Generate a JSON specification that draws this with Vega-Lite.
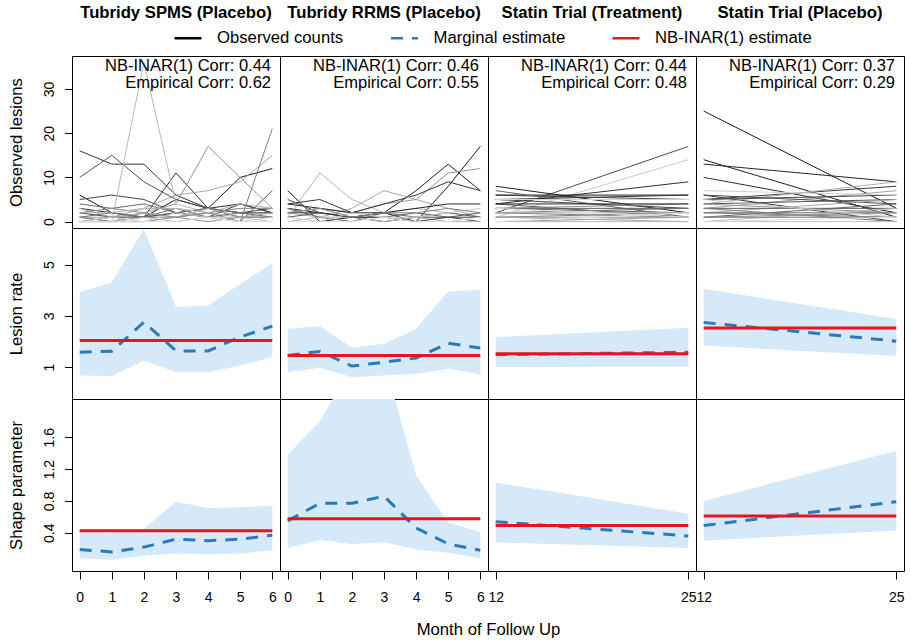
{
 "$schema": "https://vega.github.io/schema/vega-lite/v6.json",
 "padding": {"left": 7, "top": 4, "right": 4, "bottom": 2},
 "background": "white",
 "datasets": {
  "corr": [
   {"study": "SPMS", "label": "NB-INAR(1) Corr: 0.44\nEmpirical Corr: 0.62"},
   {"study": "RRMS", "label": "NB-INAR(1) Corr: 0.46\nEmpirical Corr: 0.55"},
   {"study": "StatinT", "label": "NB-INAR(1) Corr: 0.44\nEmpirical Corr: 0.48"},
   {"study": "StatinP", "label": "NB-INAR(1) Corr: 0.37\nEmpirical Corr: 0.29"}
  ],
  "est": [
   {"study": "SPMS", "param": "rate", "month": 0, "lo": 0.67, "hi": 3.92, "marg": 1.58, "nb": 2.04},
   {"study": "SPMS", "param": "rate", "month": 1, "lo": 0.65, "hi": 4.31, "marg": 1.62, "nb": 2.04},
   {"study": "SPMS", "param": "rate", "month": 2, "lo": 1.26, "hi": 6.39, "marg": 2.75, "nb": 2.04},
   {"study": "SPMS", "param": "rate", "month": 3, "lo": 0.80, "hi": 3.34, "marg": 1.63, "nb": 2.04},
   {"study": "SPMS", "param": "rate", "month": 4, "lo": 0.80, "hi": 3.40, "marg": 1.63, "nb": 2.04},
   {"study": "SPMS", "param": "rate", "month": 5, "lo": 1.06, "hi": 4.24, "marg": 2.17, "nb": 2.04},
   {"study": "SPMS", "param": "rate", "month": 6, "lo": 1.39, "hi": 5.06, "marg": 2.60, "nb": 2.04},
   {"study": "RRMS", "param": "rate", "month": 0, "lo": 0.80, "hi": 2.49, "marg": 1.45, "nb": 1.45},
   {"study": "RRMS", "param": "rate", "month": 1, "lo": 0.97, "hi": 2.60, "marg": 1.61, "nb": 1.45},
   {"study": "RRMS", "param": "rate", "month": 2, "lo": 0.60, "hi": 1.75, "marg": 1.04, "nb": 1.45},
   {"study": "RRMS", "param": "rate", "month": 3, "lo": 0.67, "hi": 1.91, "marg": 1.19, "nb": 1.45},
   {"study": "RRMS", "param": "rate", "month": 4, "lo": 0.74, "hi": 2.49, "marg": 1.35, "nb": 1.45},
   {"study": "RRMS", "param": "rate", "month": 5, "lo": 0.93, "hi": 3.95, "marg": 1.93, "nb": 1.45},
   {"study": "RRMS", "param": "rate", "month": 6, "lo": 0.71, "hi": 4.02, "marg": 1.74, "nb": 1.45},
   {"study": "StatinT", "param": "rate", "month": 12, "lo": 1.00, "hi": 2.17, "marg": 1.48, "nb": 1.52},
   {"study": "StatinT", "param": "rate", "month": 25, "lo": 1.01, "hi": 2.53, "marg": 1.58, "nb": 1.52},
   {"study": "StatinP", "param": "rate", "month": 12, "lo": 1.84, "hi": 4.05, "marg": 2.74, "nb": 2.52},
   {"study": "StatinP", "param": "rate", "month": 25, "lo": 1.43, "hi": 2.88, "marg": 2.01, "nb": 2.52},
   {"study": "SPMS", "param": "shape", "month": 0, "lo": 0.08, "hi": 0.42, "marg": 0.19, "nb": 0.425},
   {"study": "SPMS", "param": "shape", "month": 1, "lo": 0.06, "hi": 0.40, "marg": 0.16, "nb": 0.425},
   {"study": "SPMS", "param": "shape", "month": 2, "lo": 0.11, "hi": 0.45, "marg": 0.22, "nb": 0.425},
   {"study": "SPMS", "param": "shape", "month": 3, "lo": 0.14, "hi": 0.79, "marg": 0.32, "nb": 0.425},
   {"study": "SPMS", "param": "shape", "month": 4, "lo": 0.13, "hi": 0.71, "marg": 0.30, "nb": 0.425},
   {"study": "SPMS", "param": "shape", "month": 5, "lo": 0.14, "hi": 0.72, "marg": 0.32, "nb": 0.425},
   {"study": "SPMS", "param": "shape", "month": 6, "lo": 0.18, "hi": 0.74, "marg": 0.37, "nb": 0.425},
   {"study": "RRMS", "param": "shape", "month": 0, "lo": 0.21, "hi": 1.38, "marg": 0.55, "nb": 0.577},
   {"study": "RRMS", "param": "shape", "month": 1, "lo": 0.31, "hi": 1.80, "marg": 0.77, "nb": 0.577},
   {"study": "RRMS", "param": "shape", "month": 2, "lo": 0.26, "hi": 2.50, "marg": 0.77, "nb": 0.577},
   {"study": "RRMS", "param": "shape", "month": 3, "lo": 0.28, "hi": 2.57, "marg": 0.86, "nb": 0.577},
   {"study": "RRMS", "param": "shape", "month": 4, "lo": 0.19, "hi": 1.12, "marg": 0.46, "nb": 0.577},
   {"study": "RRMS", "param": "shape", "month": 5, "lo": 0.15, "hi": 0.53, "marg": 0.26, "nb": 0.577},
   {"study": "RRMS", "param": "shape", "month": 6, "lo": 0.08, "hi": 0.41, "marg": 0.18, "nb": 0.577},
   {"study": "StatinT", "param": "shape", "month": 12, "lo": 0.28, "hi": 1.03, "marg": 0.54, "nb": 0.49},
   {"study": "StatinT", "param": "shape", "month": 25, "lo": 0.21, "hi": 0.64, "marg": 0.36, "nb": 0.49},
   {"study": "StatinP", "param": "shape", "month": 12, "lo": 0.30, "hi": 0.80, "marg": 0.49, "nb": 0.61},
   {"study": "StatinP", "param": "shape", "month": 25, "lo": 0.43, "hi": 1.43, "marg": 0.79, "nb": 0.61}
  ],
  "obs": [
   {"study":"SPMS","subject":1,"month":0,"count":6},{"study":"SPMS","subject":1,"month":1,"count":2},{"study":"SPMS","subject":1,"month":2,"count":1},{"study":"SPMS","subject":1,"month":3,"count":5},{"study":"SPMS","subject":1,"month":4,"count":3},{"study":"SPMS","subject":1,"month":5,"count":10},{"study":"SPMS","subject":1,"month":6,"count":12},
   {"study":"SPMS","subject":5,"month":0,"count":16},{"study":"SPMS","subject":5,"month":1,"count":13},{"study":"SPMS","subject":5,"month":2,"count":13},{"study":"SPMS","subject":5,"month":3,"count":6},{"study":"SPMS","subject":5,"month":4,"count":3},{"study":"SPMS","subject":5,"month":5,"count":2},{"study":"SPMS","subject":5,"month":6,"count":2},
   {"study":"SPMS","subject":9,"month":0,"count":10},{"study":"SPMS","subject":9,"month":1,"count":15},{"study":"SPMS","subject":9,"month":2,"count":9},{"study":"SPMS","subject":9,"month":3,"count":5},{"study":"SPMS","subject":9,"month":4,"count":3},{"study":"SPMS","subject":9,"month":5,"count":1},{"study":"SPMS","subject":9,"month":6,"count":1},
   {"study":"SPMS","subject":4,"month":0,"count":3},{"study":"SPMS","subject":4,"month":1,"count":2},{"study":"SPMS","subject":4,"month":2,"count":1},{"study":"SPMS","subject":4,"month":3,"count":11},{"study":"SPMS","subject":4,"month":4,"count":3},{"study":"SPMS","subject":4,"month":5,"count":4},{"study":"SPMS","subject":4,"month":6,"count":2},
   {"study":"SPMS","subject":7,"month":0,"count":5},{"study":"SPMS","subject":7,"month":1,"count":6},{"study":"SPMS","subject":7,"month":2,"count":5},{"study":"SPMS","subject":7,"month":3,"count":2},{"study":"SPMS","subject":7,"month":4,"count":3},{"study":"SPMS","subject":7,"month":5,"count":2},{"study":"SPMS","subject":7,"month":6,"count":3},
   {"study":"SPMS","subject":6,"month":0,"count":2},{"study":"SPMS","subject":6,"month":1,"count":1},{"study":"SPMS","subject":6,"month":2,"count":1},{"study":"SPMS","subject":6,"month":3,"count":2},{"study":"SPMS","subject":6,"month":4,"count":1},{"study":"SPMS","subject":6,"month":5,"count":4},{"study":"SPMS","subject":6,"month":6,"count":2},
   {"study":"SPMS","subject":10,"month":0,"count":1},{"study":"SPMS","subject":10,"month":1,"count":0},{"study":"SPMS","subject":10,"month":2,"count":1},{"study":"SPMS","subject":10,"month":3,"count":2},{"study":"SPMS","subject":10,"month":4,"count":1},{"study":"SPMS","subject":10,"month":5,"count":0},{"study":"SPMS","subject":10,"month":6,"count":7},
   {"study":"SPMS","subject":17,"month":0,"count":0},{"study":"SPMS","subject":17,"month":1,"count":0},{"study":"SPMS","subject":17,"month":2,"count":2},{"study":"SPMS","subject":17,"month":3,"count":4},{"study":"SPMS","subject":17,"month":4,"count":17},{"study":"SPMS","subject":17,"month":5,"count":10},{"study":"SPMS","subject":17,"month":6,"count":3},
   {"study":"SPMS","subject":19,"month":0,"count":1},{"study":"SPMS","subject":19,"month":1,"count":1},{"study":"SPMS","subject":19,"month":2,"count":3},{"study":"SPMS","subject":19,"month":3,"count":6},{"study":"SPMS","subject":19,"month":4,"count":7},{"study":"SPMS","subject":19,"month":5,"count":9},{"study":"SPMS","subject":19,"month":6,"count":15},
   {"study":"SPMS","subject":21,"month":0,"count":0},{"study":"SPMS","subject":21,"month":1,"count":0},{"study":"SPMS","subject":21,"month":2,"count":36},{"study":"SPMS","subject":21,"month":3,"count":4},{"study":"SPMS","subject":21,"month":4,"count":2},{"study":"SPMS","subject":21,"month":5,"count":1},{"study":"SPMS","subject":21,"month":6,"count":1},
   {"study":"SPMS","subject":14,"month":0,"count":0},{"study":"SPMS","subject":14,"month":1,"count":1},{"study":"SPMS","subject":14,"month":2,"count":1},{"study":"SPMS","subject":14,"month":3,"count":1},{"study":"SPMS","subject":14,"month":4,"count":2},{"study":"SPMS","subject":14,"month":5,"count":0},{"study":"SPMS","subject":14,"month":6,"count":21},
   {"study":"SPMS","subject":12,"month":0,"count":4},{"study":"SPMS","subject":12,"month":1,"count":3},{"study":"SPMS","subject":12,"month":2,"count":4},{"study":"SPMS","subject":12,"month":3,"count":2},{"study":"SPMS","subject":12,"month":4,"count":3},{"study":"SPMS","subject":12,"month":5,"count":2},{"study":"SPMS","subject":12,"month":6,"count":1},
   {"study":"SPMS","subject":13,"month":0,"count":1},{"study":"SPMS","subject":13,"month":1,"count":2},{"study":"SPMS","subject":13,"month":2,"count":1},{"study":"SPMS","subject":13,"month":3,"count":3},{"study":"SPMS","subject":13,"month":4,"count":1},{"study":"SPMS","subject":13,"month":5,"count":2},{"study":"SPMS","subject":13,"month":6,"count":2},
   {"study":"SPMS","subject":15,"month":0,"count":2},{"study":"SPMS","subject":15,"month":1,"count":3},{"study":"SPMS","subject":15,"month":2,"count":2},{"study":"SPMS","subject":15,"month":3,"count":1},{"study":"SPMS","subject":15,"month":4,"count":2},{"study":"SPMS","subject":15,"month":5,"count":3},{"study":"SPMS","subject":15,"month":6,"count":3},
   {"study":"SPMS","subject":22,"month":0,"count":0},{"study":"SPMS","subject":22,"month":1,"count":0},{"study":"SPMS","subject":22,"month":2,"count":1},{"study":"SPMS","subject":22,"month":3,"count":0},{"study":"SPMS","subject":22,"month":4,"count":1},{"study":"SPMS","subject":22,"month":5,"count":1},{"study":"SPMS","subject":22,"month":6,"count":0},
   {"study":"SPMS","subject":16,"month":0,"count":1},{"study":"SPMS","subject":16,"month":1,"count":0},{"study":"SPMS","subject":16,"month":2,"count":0},{"study":"SPMS","subject":16,"month":3,"count":1},{"study":"SPMS","subject":16,"month":4,"count":0},{"study":"SPMS","subject":16,"month":5,"count":1},{"study":"SPMS","subject":16,"month":6,"count":1},
   {"study":"SPMS","subject":23,"month":0,"count":0},{"study":"SPMS","subject":23,"month":1,"count":1},{"study":"SPMS","subject":23,"month":2,"count":0},{"study":"SPMS","subject":23,"month":3,"count":2},{"study":"SPMS","subject":23,"month":4,"count":1},{"study":"SPMS","subject":23,"month":5,"count":0},{"study":"SPMS","subject":23,"month":6,"count":1},
   {"study":"SPMS","subject":18,"month":0,"count":3},{"study":"SPMS","subject":18,"month":1,"count":1},{"study":"SPMS","subject":18,"month":2,"count":2},{"study":"SPMS","subject":18,"month":3,"count":1},{"study":"SPMS","subject":18,"month":4,"count":3},{"study":"SPMS","subject":18,"month":5,"count":1},{"study":"SPMS","subject":18,"month":6,"count":2},
   {"study":"SPMS","subject":25,"month":0,"count":0},{"study":"SPMS","subject":25,"month":1,"count":0},{"study":"SPMS","subject":25,"month":2,"count":0},{"study":"SPMS","subject":25,"month":3,"count":0},{"study":"SPMS","subject":25,"month":4,"count":1},{"study":"SPMS","subject":25,"month":5,"count":0},{"study":"SPMS","subject":25,"month":6,"count":0},
   {"study":"SPMS","subject":20,"month":0,"count":2},{"study":"SPMS","subject":20,"month":1,"count":2},{"study":"SPMS","subject":20,"month":2,"count":3},{"study":"SPMS","subject":20,"month":3,"count":3},{"study":"SPMS","subject":20,"month":4,"count":2},{"study":"SPMS","subject":20,"month":5,"count":4},{"study":"SPMS","subject":20,"month":6,"count":3},

   {"study":"RRMS","subject":1,"month":0,"count":7},{"study":"RRMS","subject":1,"month":1,"count":0},{"study":"RRMS","subject":1,"month":2,"count":1},{"study":"RRMS","subject":1,"month":3,"count":2},{"study":"RRMS","subject":1,"month":4,"count":0},{"study":"RRMS","subject":1,"month":5,"count":8},{"study":"RRMS","subject":1,"month":6,"count":17},
   {"study":"RRMS","subject":2,"month":0,"count":3},{"study":"RRMS","subject":2,"month":1,"count":2},{"study":"RRMS","subject":2,"month":2,"count":1},{"study":"RRMS","subject":2,"month":3,"count":2},{"study":"RRMS","subject":2,"month":4,"count":7},{"study":"RRMS","subject":2,"month":5,"count":13},{"study":"RRMS","subject":2,"month":6,"count":7},
   {"study":"RRMS","subject":21,"month":0,"count":1},{"study":"RRMS","subject":21,"month":1,"count":11},{"study":"RRMS","subject":21,"month":2,"count":5},{"study":"RRMS","subject":21,"month":3,"count":2},{"study":"RRMS","subject":21,"month":4,"count":3},{"study":"RRMS","subject":21,"month":5,"count":2},{"study":"RRMS","subject":21,"month":6,"count":1},
   {"study":"RRMS","subject":17,"month":0,"count":2},{"study":"RRMS","subject":17,"month":1,"count":3},{"study":"RRMS","subject":17,"month":2,"count":2},{"study":"RRMS","subject":17,"month":3,"count":4},{"study":"RRMS","subject":17,"month":4,"count":5},{"study":"RRMS","subject":17,"month":5,"count":11},{"study":"RRMS","subject":17,"month":6,"count":12},
   {"study":"RRMS","subject":5,"month":0,"count":4},{"study":"RRMS","subject":5,"month":1,"count":5},{"study":"RRMS","subject":5,"month":2,"count":2},{"study":"RRMS","subject":5,"month":3,"count":4},{"study":"RRMS","subject":5,"month":4,"count":6},{"study":"RRMS","subject":5,"month":5,"count":9},{"study":"RRMS","subject":5,"month":6,"count":7},
   {"study":"RRMS","subject":19,"month":0,"count":2},{"study":"RRMS","subject":19,"month":1,"count":1},{"study":"RRMS","subject":19,"month":2,"count":3},{"study":"RRMS","subject":19,"month":3,"count":7},{"study":"RRMS","subject":19,"month":4,"count":5},{"study":"RRMS","subject":19,"month":5,"count":3},{"study":"RRMS","subject":19,"month":6,"count":1},
   {"study":"RRMS","subject":3,"month":0,"count":4},{"study":"RRMS","subject":3,"month":1,"count":3},{"study":"RRMS","subject":3,"month":2,"count":2},{"study":"RRMS","subject":3,"month":3,"count":2},{"study":"RRMS","subject":3,"month":4,"count":3},{"study":"RRMS","subject":3,"month":5,"count":4},{"study":"RRMS","subject":3,"month":6,"count":4},
   {"study":"RRMS","subject":8,"month":0,"count":5},{"study":"RRMS","subject":8,"month":1,"count":2},{"study":"RRMS","subject":8,"month":2,"count":1},{"study":"RRMS","subject":8,"month":3,"count":0},{"study":"RRMS","subject":8,"month":4,"count":1},{"study":"RRMS","subject":8,"month":5,"count":1},{"study":"RRMS","subject":8,"month":6,"count":0},
   {"study":"RRMS","subject":10,"month":0,"count":1},{"study":"RRMS","subject":10,"month":1,"count":2},{"study":"RRMS","subject":10,"month":2,"count":1},{"study":"RRMS","subject":10,"month":3,"count":1},{"study":"RRMS","subject":10,"month":4,"count":2},{"study":"RRMS","subject":10,"month":5,"count":1},{"study":"RRMS","subject":10,"month":6,"count":2},
   {"study":"RRMS","subject":12,"month":0,"count":3},{"study":"RRMS","subject":12,"month":1,"count":1},{"study":"RRMS","subject":12,"month":2,"count":0},{"study":"RRMS","subject":12,"month":3,"count":2},{"study":"RRMS","subject":12,"month":4,"count":1},{"study":"RRMS","subject":12,"month":5,"count":2},{"study":"RRMS","subject":12,"month":6,"count":1},
   {"study":"RRMS","subject":20,"month":0,"count":0},{"study":"RRMS","subject":20,"month":1,"count":1},{"study":"RRMS","subject":20,"month":2,"count":1},{"study":"RRMS","subject":20,"month":3,"count":0},{"study":"RRMS","subject":20,"month":4,"count":1},{"study":"RRMS","subject":20,"month":5,"count":0},{"study":"RRMS","subject":20,"month":6,"count":0},
   {"study":"RRMS","subject":6,"month":0,"count":2},{"study":"RRMS","subject":6,"month":1,"count":2},{"study":"RRMS","subject":6,"month":2,"count":1},{"study":"RRMS","subject":6,"month":3,"count":1},{"study":"RRMS","subject":6,"month":4,"count":0},{"study":"RRMS","subject":6,"month":5,"count":1},{"study":"RRMS","subject":6,"month":6,"count":1},
   {"study":"RRMS","subject":23,"month":0,"count":1},{"study":"RRMS","subject":23,"month":1,"count":0},{"study":"RRMS","subject":23,"month":2,"count":2},{"study":"RRMS","subject":23,"month":3,"count":1},{"study":"RRMS","subject":23,"month":4,"count":1},{"study":"RRMS","subject":23,"month":5,"count":2},{"study":"RRMS","subject":23,"month":6,"count":3},
   {"study":"RRMS","subject":25,"month":0,"count":0},{"study":"RRMS","subject":25,"month":1,"count":0},{"study":"RRMS","subject":25,"month":2,"count":0},{"study":"RRMS","subject":25,"month":3,"count":1},{"study":"RRMS","subject":25,"month":4,"count":0},{"study":"RRMS","subject":25,"month":5,"count":0},{"study":"RRMS","subject":25,"month":6,"count":1},
   {"study":"RRMS","subject":15,"month":0,"count":2},{"study":"RRMS","subject":15,"month":1,"count":3},{"study":"RRMS","subject":15,"month":2,"count":1},{"study":"RRMS","subject":15,"month":3,"count":2},{"study":"RRMS","subject":15,"month":4,"count":2},{"study":"RRMS","subject":15,"month":5,"count":3},{"study":"RRMS","subject":15,"month":6,"count":2},

   {"study":"StatinT","subject":8,"month":12,"count":2},{"study":"StatinT","subject":8,"month":25,"count":17},
   {"study":"StatinT","subject":23,"month":12,"count":1},{"study":"StatinT","subject":23,"month":25,"count":14},
   {"study":"StatinT","subject":4,"month":12,"count":4},{"study":"StatinT","subject":4,"month":25,"count":9},
   {"study":"StatinT","subject":2,"month":12,"count":8},{"study":"StatinT","subject":2,"month":25,"count":2},
   {"study":"StatinT","subject":1,"month":12,"count":6},{"study":"StatinT","subject":1,"month":25,"count":6},
   {"study":"StatinT","subject":5,"month":12,"count":5},{"study":"StatinT","subject":5,"month":25,"count":6},
   {"study":"StatinT","subject":6,"month":12,"count":6},{"study":"StatinT","subject":6,"month":25,"count":5},
   {"study":"StatinT","subject":7,"month":12,"count":5},{"study":"StatinT","subject":7,"month":25,"count":3},
   {"study":"StatinT","subject":9,"month":12,"count":4},{"study":"StatinT","subject":9,"month":25,"count":1},
   {"study":"StatinT","subject":10,"month":12,"count":3},{"study":"StatinT","subject":10,"month":25,"count":3},
   {"study":"StatinT","subject":11,"month":12,"count":7},{"study":"StatinT","subject":11,"month":25,"count":1},
   {"study":"StatinT","subject":12,"month":12,"count":3},{"study":"StatinT","subject":12,"month":25,"count":2},
   {"study":"StatinT","subject":13,"month":12,"count":2},{"study":"StatinT","subject":13,"month":25,"count":3},
   {"study":"StatinT","subject":14,"month":12,"count":2},{"study":"StatinT","subject":14,"month":25,"count":1},
   {"study":"StatinT","subject":15,"month":12,"count":1},{"study":"StatinT","subject":15,"month":25,"count":2},
   {"study":"StatinT","subject":16,"month":12,"count":3},{"study":"StatinT","subject":16,"month":25,"count":4},
   {"study":"StatinT","subject":17,"month":12,"count":1},{"study":"StatinT","subject":17,"month":25,"count":1},
   {"study":"StatinT","subject":18,"month":12,"count":0},{"study":"StatinT","subject":18,"month":25,"count":1},
   {"study":"StatinT","subject":19,"month":12,"count":1},{"study":"StatinT","subject":19,"month":25,"count":0},
   {"study":"StatinT","subject":20,"month":12,"count":2},{"study":"StatinT","subject":20,"month":25,"count":2},
   {"study":"StatinT","subject":21,"month":12,"count":0},{"study":"StatinT","subject":21,"month":25,"count":0},
   {"study":"StatinT","subject":3,"month":12,"count":4},{"study":"StatinT","subject":3,"month":25,"count":4},
   {"study":"StatinT","subject":24,"month":12,"count":5},{"study":"StatinT","subject":24,"month":25,"count":5},
   {"study":"StatinT","subject":25,"month":12,"count":3},{"study":"StatinT","subject":25,"month":25,"count":1},
   {"study":"StatinT","subject":26,"month":12,"count":0},{"study":"StatinT","subject":26,"month":25,"count":2},

   {"study":"StatinP","subject":1,"month":12,"count":25},{"study":"StatinP","subject":1,"month":25,"count":3},
   {"study":"StatinP","subject":2,"month":12,"count":14},{"study":"StatinP","subject":2,"month":25,"count":1},
   {"study":"StatinP","subject":3,"month":12,"count":13},{"study":"StatinP","subject":3,"month":25,"count":9},
   {"study":"StatinP","subject":4,"month":12,"count":10},{"study":"StatinP","subject":4,"month":25,"count":2},
   {"study":"StatinP","subject":5,"month":12,"count":6},{"study":"StatinP","subject":5,"month":25,"count":0},
   {"study":"StatinP","subject":6,"month":12,"count":5},{"study":"StatinP","subject":6,"month":25,"count":8},
   {"study":"StatinP","subject":20,"month":12,"count":4},{"study":"StatinP","subject":20,"month":25,"count":9},
   {"study":"StatinP","subject":18,"month":12,"count":3},{"study":"StatinP","subject":18,"month":25,"count":7},
   {"study":"StatinP","subject":7,"month":12,"count":5},{"study":"StatinP","subject":7,"month":25,"count":6},
   {"study":"StatinP","subject":8,"month":12,"count":6},{"study":"StatinP","subject":8,"month":25,"count":4},
   {"study":"StatinP","subject":9,"month":12,"count":4},{"study":"StatinP","subject":9,"month":25,"count":5},
   {"study":"StatinP","subject":19,"month":12,"count":2},{"study":"StatinP","subject":19,"month":25,"count":5},
   {"study":"StatinP","subject":10,"month":12,"count":3},{"study":"StatinP","subject":10,"month":25,"count":3},
   {"study":"StatinP","subject":11,"month":12,"count":1},{"study":"StatinP","subject":11,"month":25,"count":4},
   {"study":"StatinP","subject":12,"month":12,"count":2},{"study":"StatinP","subject":12,"month":25,"count":2},
   {"study":"StatinP","subject":21,"month":12,"count":0},{"study":"StatinP","subject":21,"month":25,"count":3},
   {"study":"StatinP","subject":13,"month":12,"count":1},{"study":"StatinP","subject":13,"month":25,"count":1},
   {"study":"StatinP","subject":14,"month":12,"count":3},{"study":"StatinP","subject":14,"month":25,"count":0},
   {"study":"StatinP","subject":15,"month":12,"count":2},{"study":"StatinP","subject":15,"month":25,"count":1},
   {"study":"StatinP","subject":22,"month":12,"count":0},{"study":"StatinP","subject":22,"month":25,"count":0},
   {"study":"StatinP","subject":16,"month":12,"count":1},{"study":"StatinP","subject":16,"month":25,"count":2},
   {"study":"StatinP","subject":17,"month":12,"count":4},{"study":"StatinP","subject":17,"month":25,"count":2},
   {"study":"StatinP","subject":23,"month":12,"count":5},{"study":"StatinP","subject":23,"month":25,"count":1},
   {"study":"StatinP","subject":24,"month":12,"count":7},{"study":"StatinP","subject":24,"month":25,"count":6},
   {"study":"StatinP","subject":25,"month":12,"count":0},{"study":"StatinP","subject":25,"month":25,"count":1}
  ]
 },
 "columns": 4,
 "spacing": 0,
 "bounds": "flush",
 "concat": [
  {
   "width": 208, "height": 172, "title": "Tubridy SPMS (Placebo)",
   "layer": [
    {"data": {"name": "obs"}, "transform": [{"filter": "datum.study === 'SPMS'"}],
     "mark": {"type": "line", "strokeWidth": 1, "clip": true},
     "encoding": {
      "x": {"field": "month", "type": "quantitative", "scale": {"domain": [-0.24, 6.24], "nice": false, "zero": false}, "axis": null},
      "y": {"field": "count", "type": "quantitative", "scale": {"domain": [-1.44, 37.44], "nice": false, "zero": false}, "axis": {"values": [0, 10, 20, 30], "format": "d", "title": "Observed lesions", "titleY": 86, "labelAngle": 270, "labelAlign": "center", "labelBaseline": "alphabetic", "labelPadding": 11.5}},
      "detail": {"field": "subject", "type": "nominal"},
      "stroke": {"field": "subject", "type": "quantitative", "scale": {"domain": [1, 26], "range": ["#1a1a1a", "#e6e6e6"]}, "legend": null}
     }},
    {"data": {"name": "corr"}, "transform": [{"filter": "datum.study === 'SPMS'"}],
     "mark": {"type": "text", "align": "right", "baseline": "alphabetic", "dx": -9, "dy": 14.5, "fontSize": 16.5, "lineHeight": 17, "lineBreak": "\n", "color": "black"},
     "encoding": {"x": {"datum": 6.24, "type": "quantitative", "axis": null}, "y": {"datum": 37.44, "type": "quantitative", "axis": {"values": [0, 10, 20, 30], "format": "d", "title": "Observed lesions", "titleY": 86, "labelAngle": 270, "labelAlign": "center", "labelBaseline": "alphabetic", "labelPadding": 11.5}}, "text": {"field": "label", "type": "nominal"}}}
   ]
  },
  {
   "width": 208, "height": 172, "title": "Tubridy RRMS (Placebo)",
   "layer": [
    {"data": {"name": "obs"}, "transform": [{"filter": "datum.study === 'RRMS'"}],
     "mark": {"type": "line", "strokeWidth": 1, "clip": true},
     "encoding": {
      "x": {"field": "month", "type": "quantitative", "scale": {"domain": [-0.24, 6.24], "nice": false, "zero": false}, "axis": null},
      "y": {"field": "count", "type": "quantitative", "scale": {"domain": [-1.44, 37.44], "nice": false, "zero": false}, "axis": null},
      "detail": {"field": "subject", "type": "nominal"},
      "stroke": {"field": "subject", "type": "quantitative", "scale": {"domain": [1, 26], "range": ["#1a1a1a", "#e6e6e6"]}, "legend": null}
     }},
    {"data": {"name": "corr"}, "transform": [{"filter": "datum.study === 'RRMS'"}],
     "mark": {"type": "text", "align": "right", "baseline": "alphabetic", "dx": -9, "dy": 14.5, "fontSize": 16.5, "lineHeight": 17, "lineBreak": "\n", "color": "black"},
     "encoding": {"x": {"datum": 6.24, "type": "quantitative", "axis": null}, "y": {"datum": 37.44, "type": "quantitative", "axis": null}, "text": {"field": "label", "type": "nominal"}}}
   ]
  },
  {
   "width": 208, "height": 172, "title": "Statin Trial (Treatment)",
   "layer": [
    {"data": {"name": "obs"}, "transform": [{"filter": "datum.study === 'StatinT'"}],
     "mark": {"type": "line", "strokeWidth": 1, "clip": true},
     "encoding": {
      "x": {"field": "month", "type": "quantitative", "scale": {"domain": [11.48, 25.52], "nice": false, "zero": false}, "axis": null},
      "y": {"field": "count", "type": "quantitative", "scale": {"domain": [-1.44, 37.44], "nice": false, "zero": false}, "axis": null},
      "detail": {"field": "subject", "type": "nominal"},
      "stroke": {"field": "subject", "type": "quantitative", "scale": {"domain": [1, 26], "range": ["#1a1a1a", "#e6e6e6"]}, "legend": null}
     }},
    {"data": {"name": "corr"}, "transform": [{"filter": "datum.study === 'StatinT'"}],
     "mark": {"type": "text", "align": "right", "baseline": "alphabetic", "dx": -9, "dy": 14.5, "fontSize": 16.5, "lineHeight": 17, "lineBreak": "\n", "color": "black"},
     "encoding": {"x": {"datum": 25.52, "type": "quantitative", "axis": null}, "y": {"datum": 37.44, "type": "quantitative", "axis": null}, "text": {"field": "label", "type": "nominal"}}}
   ]
  },
  {
   "width": 208, "height": 172, "title": "Statin Trial (Placebo)",
   "layer": [
    {"data": {"name": "obs"}, "transform": [{"filter": "datum.study === 'StatinP'"}],
     "mark": {"type": "line", "strokeWidth": 1, "clip": true},
     "encoding": {
      "x": {"field": "month", "type": "quantitative", "scale": {"domain": [11.48, 25.52], "nice": false, "zero": false}, "axis": null},
      "y": {"field": "count", "type": "quantitative", "scale": {"domain": [-1.44, 37.44], "nice": false, "zero": false}, "axis": null},
      "detail": {"field": "subject", "type": "nominal"},
      "stroke": {"field": "subject", "type": "quantitative", "scale": {"domain": [1, 26], "range": ["#1a1a1a", "#e6e6e6"]}, "legend": null}
     }},
    {"data": {"name": "corr"}, "transform": [{"filter": "datum.study === 'StatinP'"}],
     "mark": {"type": "text", "align": "right", "baseline": "alphabetic", "dx": -9, "dy": 14.5, "fontSize": 16.5, "lineHeight": 17, "lineBreak": "\n", "color": "black"},
     "encoding": {"x": {"datum": 25.52, "type": "quantitative", "axis": null}, "y": {"datum": 37.44, "type": "quantitative", "axis": null}, "text": {"field": "label", "type": "nominal"}}}
   ]
  },

  {
   "width": 208, "height": 171,
   "data": {"name": "est"}, "transform": [{"filter": "datum.study === 'SPMS' && datum.param === 'rate'"}],
   "encoding": {"x": {"field": "month", "type": "quantitative", "scale": {"domain": [-0.24, 6.24], "nice": false, "zero": false}, "axis": null}},
   "layer": [
    {"mark": {"type": "area", "color": "#d6e9f8", "opacity": 1, "clip": true},
     "encoding": {"y": {"field": "lo", "type": "quantitative", "scale": {"domain": [-0.247, 6.427], "nice": false, "zero": false}, "axis": {"values": [1, 3, 5], "format": "d", "title": "Lesion rate", "titleY": 85.5, "labelAngle": 270, "labelAlign": "center", "labelBaseline": "alphabetic", "labelPadding": 11.5}}, "y2": {"field": "hi"}}},
    {"mark": {"type": "line", "strokeWidth": 3, "clip": true},
     "encoding": {"y": {"field": "marg", "type": "quantitative", "axis": {"values": [1, 3, 5], "format": "d", "title": "Lesion rate", "titleY": 85.5, "labelAngle": 270, "labelAlign": "center", "labelBaseline": "alphabetic", "labelPadding": 11.5}},
      "color": {"datum": "Marginal estimate", "type": "nominal", "scale": {"domain": ["Observed counts", "Marginal estimate", "NB-INAR(1) estimate"], "range": ["#000000", "#2b7bba", "#e8141c"]}, "legend": {"title": null}},
      "strokeDash": {"datum": "Marginal estimate", "type": "nominal", "scale": {"domain": ["Observed counts", "Marginal estimate", "NB-INAR(1) estimate"], "range": [[1, 0], [12, 9], [1, 0]]}, "legend": {"title": null}}}},
    {"mark": {"type": "line", "strokeWidth": 3, "clip": true},
     "encoding": {"y": {"field": "nb", "type": "quantitative", "axis": {"values": [1, 3, 5], "format": "d", "title": "Lesion rate", "titleY": 85.5, "labelAngle": 270, "labelAlign": "center", "labelBaseline": "alphabetic", "labelPadding": 11.5}},
      "color": {"datum": "NB-INAR(1) estimate", "type": "nominal"},
      "strokeDash": {"datum": "NB-INAR(1) estimate", "type": "nominal"}}}
   ]
  },
  {
   "width": 208, "height": 171,
   "data": {"name": "est"}, "transform": [{"filter": "datum.study === 'RRMS' && datum.param === 'rate'"}],
   "encoding": {"x": {"field": "month", "type": "quantitative", "scale": {"domain": [-0.24, 6.24], "nice": false, "zero": false}, "axis": null}},
   "layer": [
    {"mark": {"type": "area", "color": "#d6e9f8", "opacity": 1, "clip": true},
     "encoding": {"y": {"field": "lo", "type": "quantitative", "scale": {"domain": [-0.247, 6.427], "nice": false, "zero": false}, "axis": null}, "y2": {"field": "hi"}}},
    {"mark": {"type": "line", "strokeWidth": 3, "clip": true},
     "encoding": {"y": {"field": "marg", "type": "quantitative", "axis": null},
      "color": {"datum": "Marginal estimate", "type": "nominal"},
      "strokeDash": {"datum": "Marginal estimate", "type": "nominal"}}},
    {"mark": {"type": "line", "strokeWidth": 3, "clip": true},
     "encoding": {"y": {"field": "nb", "type": "quantitative", "axis": null},
      "color": {"datum": "NB-INAR(1) estimate", "type": "nominal"},
      "strokeDash": {"datum": "NB-INAR(1) estimate", "type": "nominal"}}}
   ]
  },
  {
   "width": 208, "height": 171,
   "data": {"name": "est"}, "transform": [{"filter": "datum.study === 'StatinT' && datum.param === 'rate'"}],
   "encoding": {"x": {"field": "month", "type": "quantitative", "scale": {"domain": [11.48, 25.52], "nice": false, "zero": false}, "axis": null}},
   "layer": [
    {"mark": {"type": "area", "color": "#d6e9f8", "opacity": 1, "clip": true},
     "encoding": {"y": {"field": "lo", "type": "quantitative", "scale": {"domain": [-0.247, 6.427], "nice": false, "zero": false}, "axis": null}, "y2": {"field": "hi"}}},
    {"mark": {"type": "line", "strokeWidth": 3, "clip": true},
     "encoding": {"y": {"field": "marg", "type": "quantitative", "axis": null},
      "color": {"datum": "Marginal estimate", "type": "nominal"},
      "strokeDash": {"datum": "Marginal estimate", "type": "nominal"}}},
    {"mark": {"type": "line", "strokeWidth": 3, "clip": true},
     "encoding": {"y": {"field": "nb", "type": "quantitative", "axis": null},
      "color": {"datum": "NB-INAR(1) estimate", "type": "nominal"},
      "strokeDash": {"datum": "NB-INAR(1) estimate", "type": "nominal"}}}
   ]
  },
  {
   "width": 208, "height": 171,
   "data": {"name": "est"}, "transform": [{"filter": "datum.study === 'StatinP' && datum.param === 'rate'"}],
   "encoding": {"x": {"field": "month", "type": "quantitative", "scale": {"domain": [11.48, 25.52], "nice": false, "zero": false}, "axis": null}},
   "layer": [
    {"mark": {"type": "area", "color": "#d6e9f8", "opacity": 1, "clip": true},
     "encoding": {"y": {"field": "lo", "type": "quantitative", "scale": {"domain": [-0.247, 6.427], "nice": false, "zero": false}, "axis": null}, "y2": {"field": "hi"}}},
    {"mark": {"type": "line", "strokeWidth": 3, "clip": true},
     "encoding": {"y": {"field": "marg", "type": "quantitative", "axis": null},
      "color": {"datum": "Marginal estimate", "type": "nominal"},
      "strokeDash": {"datum": "Marginal estimate", "type": "nominal"}}},
    {"mark": {"type": "line", "strokeWidth": 3, "clip": true},
     "encoding": {"y": {"field": "nb", "type": "quantitative", "axis": null},
      "color": {"datum": "NB-INAR(1) estimate", "type": "nominal"},
      "strokeDash": {"datum": "NB-INAR(1) estimate", "type": "nominal"}}}
   ]
  },

  {
   "width": 208, "height": 172,
   "data": {"name": "est"}, "transform": [{"filter": "datum.study === 'SPMS' && datum.param === 'shape'"}],
   "encoding": {"x": {"field": "month", "type": "quantitative", "scale": {"domain": [-0.24, 6.24], "nice": false, "zero": false}, "axis": {"values": [0, 1, 2, 3, 4, 5, 6], "format": "d", "title": null}}},
   "layer": [
    {"mark": {"type": "area", "color": "#d6e9f8", "opacity": 1, "clip": true},
     "encoding": {"y": {"field": "lo", "type": "quantitative", "scale": {"domain": [-0.08, 2.08], "nice": false, "zero": false}, "axis": {"values": [0.4, 0.8, 1.2, 1.6], "format": ".1f", "title": "Shape parameter", "titleY": 86, "labelAngle": 270, "labelAlign": "center", "labelBaseline": "alphabetic", "labelPadding": 11.5}}, "y2": {"field": "hi"}}},
    {"mark": {"type": "line", "strokeWidth": 3, "clip": true},
     "encoding": {"y": {"field": "marg", "type": "quantitative", "axis": {"values": [0.4, 0.8, 1.2, 1.6], "format": ".1f", "title": "Shape parameter", "titleY": 86, "labelAngle": 270, "labelAlign": "center", "labelBaseline": "alphabetic", "labelPadding": 11.5}},
      "color": {"datum": "Marginal estimate", "type": "nominal"},
      "strokeDash": {"datum": "Marginal estimate", "type": "nominal"}}},
    {"mark": {"type": "line", "strokeWidth": 3, "clip": true},
     "encoding": {"y": {"field": "nb", "type": "quantitative", "axis": {"values": [0.4, 0.8, 1.2, 1.6], "format": ".1f", "title": "Shape parameter", "titleY": 86, "labelAngle": 270, "labelAlign": "center", "labelBaseline": "alphabetic", "labelPadding": 11.5}},
      "color": {"datum": "NB-INAR(1) estimate", "type": "nominal"},
      "strokeDash": {"datum": "NB-INAR(1) estimate", "type": "nominal"}}}
   ]
  },
  {
   "width": 208, "height": 172,
   "data": {"name": "est"}, "transform": [{"filter": "datum.study === 'RRMS' && datum.param === 'shape'"}],
   "encoding": {"x": {"field": "month", "type": "quantitative", "scale": {"domain": [-0.24, 6.24], "nice": false, "zero": false}, "axis": {"values": [0, 1, 2, 3, 4, 5, 6], "format": "d", "title": "Month of Follow Up", "titleX": 208, "titleY": 63.5, "titleAlign": "center", "titleBaseline": "alphabetic"}}},
   "layer": [
    {"mark": {"type": "area", "color": "#d6e9f8", "opacity": 1, "clip": true},
     "encoding": {"y": {"field": "lo", "type": "quantitative", "scale": {"domain": [-0.08, 2.08], "nice": false, "zero": false}, "axis": null}, "y2": {"field": "hi"}}},
    {"mark": {"type": "line", "strokeWidth": 3, "clip": true},
     "encoding": {"y": {"field": "marg", "type": "quantitative", "axis": null},
      "color": {"datum": "Marginal estimate", "type": "nominal"},
      "strokeDash": {"datum": "Marginal estimate", "type": "nominal"}}},
    {"mark": {"type": "line", "strokeWidth": 3, "clip": true},
     "encoding": {"y": {"field": "nb", "type": "quantitative", "axis": null},
      "color": {"datum": "NB-INAR(1) estimate", "type": "nominal"},
      "strokeDash": {"datum": "NB-INAR(1) estimate", "type": "nominal"}}}
   ]
  },
  {
   "width": 208, "height": 172,
   "data": {"name": "est"}, "transform": [{"filter": "datum.study === 'StatinT' && datum.param === 'shape'"}],
   "encoding": {"x": {"field": "month", "type": "quantitative", "scale": {"domain": [11.48, 25.52], "nice": false, "zero": false}, "axis": {"values": [12, 25], "format": "d", "title": null}}},
   "layer": [
    {"mark": {"type": "area", "color": "#d6e9f8", "opacity": 1, "clip": true},
     "encoding": {"y": {"field": "lo", "type": "quantitative", "scale": {"domain": [-0.08, 2.08], "nice": false, "zero": false}, "axis": null}, "y2": {"field": "hi"}}},
    {"mark": {"type": "line", "strokeWidth": 3, "clip": true},
     "encoding": {"y": {"field": "marg", "type": "quantitative", "axis": null},
      "color": {"datum": "Marginal estimate", "type": "nominal"},
      "strokeDash": {"datum": "Marginal estimate", "type": "nominal"}}},
    {"mark": {"type": "line", "strokeWidth": 3, "clip": true},
     "encoding": {"y": {"field": "nb", "type": "quantitative", "axis": null},
      "color": {"datum": "NB-INAR(1) estimate", "type": "nominal"},
      "strokeDash": {"datum": "NB-INAR(1) estimate", "type": "nominal"}}}
   ]
  },
  {
   "width": 208, "height": 172,
   "data": {"name": "est"}, "transform": [{"filter": "datum.study === 'StatinP' && datum.param === 'shape'"}],
   "encoding": {"x": {"field": "month", "type": "quantitative", "scale": {"domain": [11.48, 25.52], "nice": false, "zero": false}, "axis": {"values": [12, 25], "format": "d", "title": null}}},
   "layer": [
    {"mark": {"type": "area", "color": "#d6e9f8", "opacity": 1, "clip": true},
     "encoding": {"y": {"field": "lo", "type": "quantitative", "scale": {"domain": [-0.08, 2.08], "nice": false, "zero": false}, "axis": null}, "y2": {"field": "hi"}}},
    {"mark": {"type": "line", "strokeWidth": 3, "clip": true},
     "encoding": {"y": {"field": "marg", "type": "quantitative", "axis": null},
      "color": {"datum": "Marginal estimate", "type": "nominal"},
      "strokeDash": {"datum": "Marginal estimate", "type": "nominal"}}},
    {"mark": {"type": "line", "strokeWidth": 3, "clip": true},
     "encoding": {"y": {"field": "nb", "type": "quantitative", "axis": null},
      "color": {"datum": "NB-INAR(1) estimate", "type": "nominal"},
      "strokeDash": {"datum": "NB-INAR(1) estimate", "type": "nominal"}}}
   ]
  }
 ],
 "config": {
  "font": "Liberation Sans",
  "view": {"stroke": "black", "strokeWidth": 1},
  "axis": {"domain": false, "grid": false, "ticks": true, "tickColor": "black", "tickWidth": 1, "labelColor": "black", "labelFontSize": 14, "labelFont": "Liberation Sans", "titleColor": "black", "titleFontSize": 16.7, "titleFontWeight": "normal", "titleFont": "Liberation Sans"},
  "axisY": {"tickSize": 7.5, "titleBaseline": "alphabetic", "titleAngle": 270, "titleX": -51, "titleAlign": "center"},
  "axisX": {"tickSize": 8, "labelPadding": 22, "labelBaseline": "alphabetic", "labelAngle": 0},
  "title": {"fontSize": 16.7, "fontWeight": "bold", "color": "black", "offset": 34, "baseline": "alphabetic", "anchor": "middle", "frame": "group", "font": "Liberation Sans"},
  "legend": {"orient": "none", "legendX": 101, "legendY": -33, "direction": "horizontal", "columns": 3, "symbolType": "stroke", "symbolSize": 729, "symbolStrokeWidth": 2.5, "labelFontSize": 16.7, "labelFont": "Liberation Sans", "labelColor": "black", "labelOffset": 14, "columnPadding": 41.5, "padding": 0, "offset": 0, "labelLimit": 400}
 }
}
